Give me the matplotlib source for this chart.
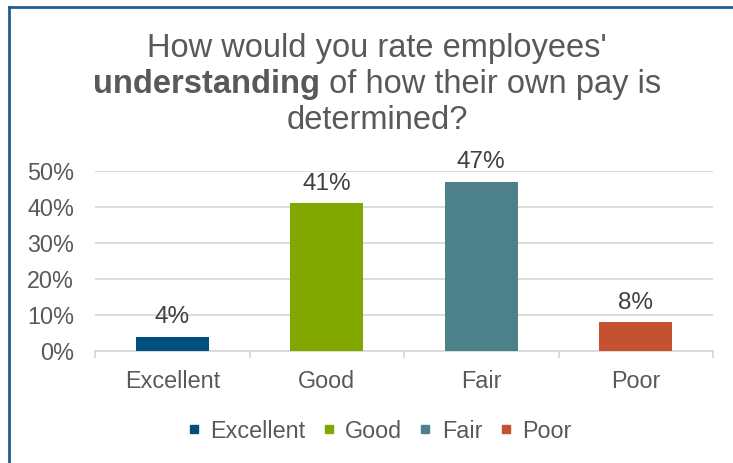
import numpy as np
import matplotlib.pyplot as plt
from matplotlib.lines import Line2D

plt.rcParams['font.family'] = ['Liberation Sans', 'DejaVu Sans']

# survey results
categories = ['Excellent', 'Good', 'Fair', 'Poor']
shares     = [0.04, 0.41, 0.47, 0.08]
colors     = ['#00507F', '#82A800', '#4D8189', '#C4512F']
yticks     = [0.0, 0.1, 0.2, 0.3, 0.4, 0.5]

text_col = '#595959'
grid_col = '#D9D9D9'
fonts    = 16.8

W, H = 733, 463
fig = plt.figure(figsize=(W / 100, H / 100), dpi=100)
ax = fig.add_axes([95 / W, 1 - 351 / H, (713 - 95) / W, (351 - 171) / H])

x = np.arange(len(categories))
bars = ax.bar(x, shares, width=0.47, color=colors, zorder=3)
for b, v in zip(bars, shares):
    ax.annotate('{:.0%}'.format(v), (b.get_x() + b.get_width() / 2, v),
                xytext=(0, 6), textcoords='offset points', ha='center', va='bottom',
                fontsize=17.5, color='#404040')

ax.set_xlim(-0.5, len(categories) - 0.5)
ax.set_ylim(0, 0.5)
ax.set_yticks(yticks)
ax.set_yticklabels(['{:.0%}'.format(t) for t in yticks])
ax.yaxis.grid(True, color=grid_col, lw=1.3, zorder=0)
ax.set_xticks(x)
ax.set_xticklabels(categories)
ax.set_xticks(np.arange(len(categories) + 1) - 0.5, minor=True)
ax.tick_params(axis='y', length=0, pad=15, labelsize=fonts, labelcolor=text_col)
ax.tick_params(axis='x', which='major', length=0, pad=14, labelsize=fonts, labelcolor=text_col)
ax.tick_params(axis='x', which='minor', length=5, width=1.3, color=grid_col)
for s in ['top', 'right', 'left']:
    ax.spines[s].set_visible(False)
ax.spines['bottom'].set_color(grid_col)
ax.spines['bottom'].set_linewidth(1.3)

# title, middle line has a bold word
tsize = 23.5
cx = 377 / W
fig.text(cx, 1 - 57 / H, "How would you rate employees'", ha='center', va='baseline',
         fontsize=tsize, color=text_col)
fig.text(cx, 1 - 129 / H, 'determined?', ha='center', va='baseline',
         fontsize=tsize, color=text_col)
t_bold = fig.text(0, 1 - 93 / H, 'understanding', ha='left', va='baseline',
                  fontsize=tsize, color=text_col, fontweight='bold')
t_rest = fig.text(0, 1 - 93 / H, ' of how their own pay is', ha='left', va='baseline',
                  fontsize=tsize, color=text_col)
r = fig.canvas.get_renderer()
w1 = t_bold.get_window_extent(r).width / W
w2 = t_rest.get_window_extent(r).width / W
x0 = cx - (w1 + w2) / 2
t_bold.set_x(x0)
t_rest.set_x(x0 + w1)

handles = [Line2D([], [], ls='', marker='s', markersize=6, color=c) for c in colors]
fig.legend(handles, categories, loc='center', bbox_to_anchor=(379 / W, 1 - 431 / H),
           ncol=4, frameon=False, fontsize=fonts, labelcolor=text_col,
           handlelength=0.6, handletextpad=0.4, columnspacing=0.7)

# blue frame along the top and left edges
frame = '#1D5F8E'
fig.add_artist(Line2D([8.5 / W, 8.5 / W], [0, 1 - 7 / H], color=frame, lw=2, transform=fig.transFigure))
fig.add_artist(Line2D([8.5 / W, 1], [1 - 7 / H, 1 - 7 / H], color=frame, lw=2, transform=fig.transFigure))

plt.savefig('out.png', dpi=100)
